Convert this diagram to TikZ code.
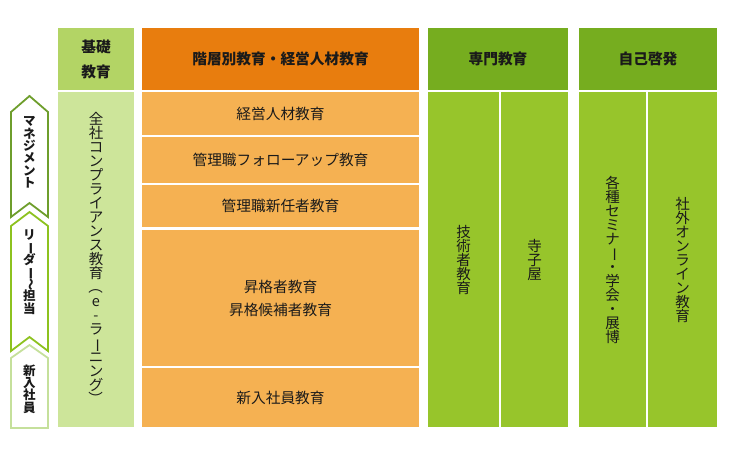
\documentclass[tikz,border=0pt]{standalone}
\usepackage{fontspec}
\setmainfont{Noto Sans CJK JP}
\usepackage{graphicx}
\usetikzlibrary{positioning}

\definecolor{kisohead}{HTML}{B3D465}
\definecolor{kisobody}{HTML}{CDE59A}
\definecolor{orghead}{HTML}{E87D0E}
\definecolor{orgbody}{HTML}{F5B152}
\definecolor{grnhead}{HTML}{76AD1F}
\definecolor{grnbody}{HTML}{97C52B}
\definecolor{lvlone}{HTML}{6E9E2C}
\definecolor{lvltwo}{HTML}{8DC21F}
\definecolor{lvlthree}{HTML}{C5E09B}
\definecolor{txt}{HTML}{1A1A1A}

% vertical forms
\newcommand{\vbar}{\rotatebox[origin=c]{-90}{ー}}
\newcommand{\vlparen}{\rotatebox[origin=c]{-90}{（}}
\newcommand{\vrparen}{\rotatebox[origin=c]{-90}{）}}
\newcommand{\vwave}{\rotatebox[origin=c]{-90}{～}}

\tikzset{
  cellbox/.style={inner sep=0pt, text=txt, align=center,
    font=\fontsize{14.7}{23}\selectfont},
  headbox/.style={cellbox, font=\fontsize{14.7}{25}\selectfont\bfseries},
  tate/.style={inner sep=0pt, text=txt, align=center,
    font=\fontsize{14.5}{14}\selectfont},
  levelbox/.style={line width=1.8pt, line join=miter, fill=white},
  leveltext/.style={inner sep=0pt, text=txt, align=center,
    font=\fontsize{12.5}{12.3}\selectfont\bfseries}
}

\begin{document}
\setlength{\lineskiplimit}{-20pt}
\begin{tikzpicture}[x=1pt,y=-1pt]
\useasboundingbox (0,0) rectangle (729,450);

% level arrows on the left
\draw[levelbox, draw=lvlone] (11,112) -- (29.5,96) -- (48,112) -- (48,217)
  -- (29.5,203) -- (11,217) -- cycle;
\draw[levelbox, draw=lvltwo] (11,226) -- (29.5,212) -- (48,226) -- (48,351)
  -- (29.5,337) -- (11,351) -- cycle;
\draw[levelbox, draw=lvlthree] (11,358) -- (29.5,345) -- (48,358) -- (48,428)
  -- (11,428) -- cycle;
\node[leveltext] (manage) at (29.5,152.5) {マ\\ネ\\ジ\\メ\\ン\\ト};
\node[leveltext] (leader) at (29.5,272) {リ\\\vbar\\ダ\\\vbar\\\vwave\\担\\当};
\node[leveltext] (newbie) at (29.5,389) {新\\入\\社\\員};

% basic education
\node[headbox, fill=kisohead, minimum width=76pt, minimum height=62pt]
  (kisohd) at (96,59) {基礎\\教育};
\node[cellbox, fill=kisobody, minimum width=76pt, minimum height=335pt]
  (kisobd) at (96,259.5) {};
\node[tate] (kisotx) at (kisobd.center) {全\\社\\コ\\ン\\プ\\ラ\\イ\\ア\\ン\\ス\\教\\育\\\vlparen\\e\\-\\ラ\\\vbar\\ニ\\ン\\グ\\\vrparen};

% rank based education
\node[headbox, fill=orghead, minimum width=277pt, minimum height=62pt]
  (rankhd) at (280.5,59) {階層別教育・経営人材教育};
\node[cellbox, fill=orgbody, minimum width=277pt, minimum height=43pt]
  (rankone) at (280.5,113.5) {経営人材教育};
\node[cellbox, fill=orgbody, minimum width=277pt, minimum height=46pt]
  (ranktwo) at (280.5,160) {管理職フォローアップ教育};
\node[cellbox, fill=orgbody, minimum width=277pt, minimum height=42pt]
  (rankthree) at (280.5,206) {管理職新任者教育};
\node[cellbox, fill=orgbody, minimum width=277pt, minimum height=136pt]
  (rankfour) at (280.5,298) {昇格者教育\\昇格候補者教育};
\node[cellbox, fill=orgbody, minimum width=277pt, minimum height=59pt]
  (rankfive) at (280.5,397.5) {新入社員教育};

% special education
\node[headbox, fill=grnhead, minimum width=140pt, minimum height=62pt]
  (senhd) at (498,59) {専門教育};
\node[cellbox, fill=grnbody, minimum width=71pt, minimum height=335pt]
  (senleft) at (463.5,259.5) {};
\node[cellbox, fill=grnbody, minimum width=67pt, minimum height=335pt]
  (senright) at (534.5,259.5) {};
\node[tate] (sentxa) at (senleft.center) {技\\術\\者\\教\\育};
\node[tate] (sentxb) at (senright.center) {寺\\子\\屋};

% self development
\node[headbox, fill=grnhead, minimum width=138pt, minimum height=62pt]
  (jikohd) at (648,59) {自己啓発};
\node[cellbox, fill=grnbody, minimum width=67pt, minimum height=335pt]
  (jikoleft) at (612.5,259.5) {};
\node[cellbox, fill=grnbody, minimum width=69pt, minimum height=335pt]
  (jikoright) at (682.5,259.5) {};
\node[tate] (jikotxa) at (jikoleft.center) {各\\種\\セ\\ミ\\ナ\\\vbar\\・\\学\\会\\・\\展\\博};
\node[tate] (jikotxb) at (jikoright.center) {社\\外\\オ\\ン\\ラ\\イ\\ン\\教\\育};
\end{tikzpicture}
\end{document}
